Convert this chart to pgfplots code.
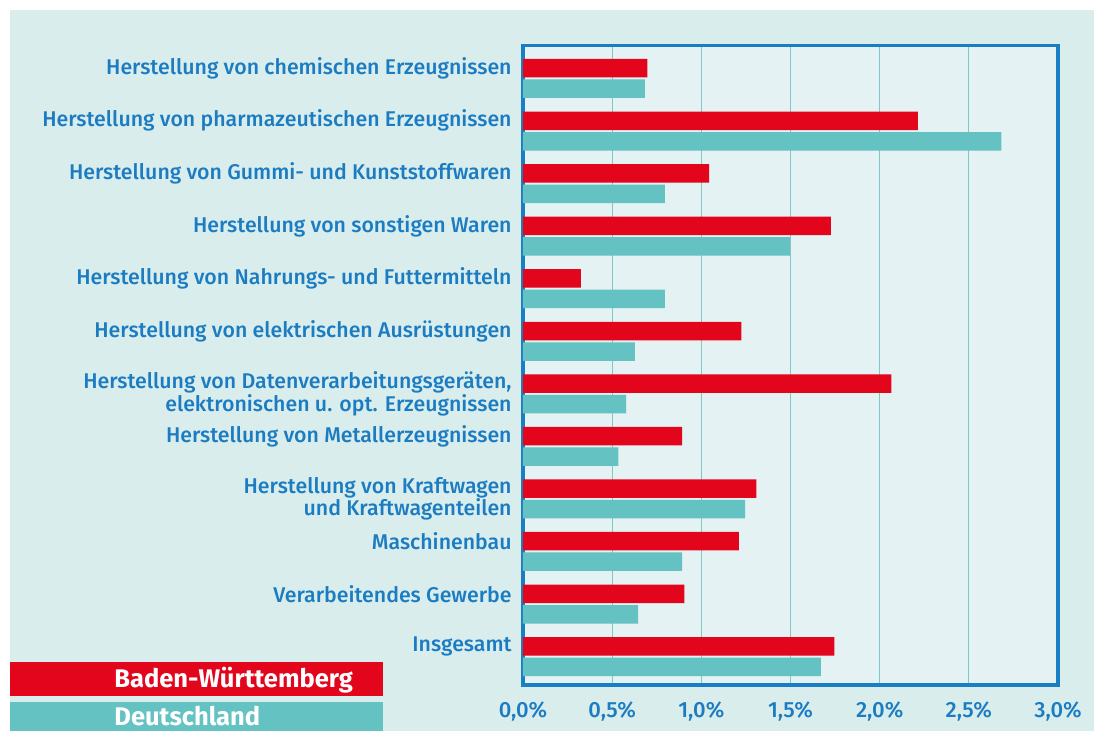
\documentclass[border=0pt]{standalone}
\usepackage{fontspec}
\setmainfont{Fira Sans}
\newfontfamily\medfont{Fira Sans Medium}
\usepackage{pgfplots}
\usepackage{pgfplotstable}
\pgfplotsset{compat=1.18}
\definecolor{bgout}{HTML}{D9EDED}
\definecolor{bgin}{HTML}{E4F2F3}
\definecolor{axblue}{HTML}{1A7EC4}
\definecolor{txtblue}{HTML}{1B7CC2}
\definecolor{gridc}{HTML}{80C8C8}
\definecolor{bwred}{HTML}{E2051C}
\definecolor{deteal}{HTML}{64C2C2}

% idx = 11 - position from top
\pgfplotstableread{
idx bw de
11 0.697 0.684
10 2.214 2.683
9 1.043 0.795
8 1.727 1.496
7 0.325 0.795
6 1.224 0.627
5 2.065 0.578
4 0.892 0.535
3 1.309 1.245
2 1.211 0.892
1 0.905 0.646
0 1.746 1.670
}\datatable

\begin{document}
\begin{tikzpicture}[x=1pt,y=1pt]
\fill[white] (0,0) rectangle (547,365.5);
\fill[bgout] (5,0) rectangle (547,360.5);
\begin{axis}[
  at={(261.5pt,23pt)}, anchor=south west,
  width=267.5pt, height=319.65pt, scale only axis,
  xmin=0, xmax=3, ymin=-0.54, ymax=11.624,
  axis background/.style={fill=bgin},
  axis line style={draw=axblue, line width=1.6pt},
  xmajorgrids, major grid style={draw=gridc, line width=0.6pt},
  major tick length=0pt,
  xtick={0,0.5,1,1.5,2,2.5,3},
  xticklabels={{0,0\%},{0,5\%},{1,0\%},{1,5\%},{2,0\%},{2,5\%},{3,0\%}},
  xticklabel style={font=\medfont\fontsize{11}{11}\selectfont, text=txtblue, anchor=base, yshift=-16.5pt},
  ytick={0.195,1.195,2.195,3,4.195,5,6.195,7.195,8.195,9.195,10.195,11.195},
  yticklabels={
    {Insgesamt},
    {Verarbeitendes Gewerbe},
    {Maschinenbau},
    {Herstellung von Kraftwagen\\und Kraftwagenteilen},
    {Herstellung von Metallerzeugnissen},
    {Herstellung von Datenverarbeitungsgeräten,\\elektronischen u. opt. Erzeugnissen},
    {Herstellung von elektrischen Ausrüstungen},
    {Herstellung von Nahrungs- und Futtermitteln},
    {Herstellung von sonstigen Waren},
    {Herstellung von Gummi- und Kunststoffwaren},
    {Herstellung von pharmazeutischen Erzeugnissen},
    {Herstellung von chemischen Erzeugnissen}},
  yticklabel style={font=\medfont\fontsize{10.65}{11.2}\selectfont, text=txtblue, anchor=east, inner sep=0pt, xshift=-5.5pt, align=right},
  clip=false,
]
\addplot[xbar, fill=bwred, draw=none, bar width=0.352, bar shift=0.195] table[x=bw, y=idx] {\datatable};
\addplot[xbar, fill=deteal, draw=none, bar width=0.352, bar shift=-0.195] table[x=de, y=idx] {\datatable};
\end{axis}
\fill[bwred] (5,17.5) rectangle (191.5,34.65);
\fill[deteal] (5,0) rectangle (191.5,14.35);
\node[anchor=base west, inner sep=0pt, text=white, font=\bfseries\fontsize{12.75}{13}\selectfont] at (57,21.5) {Baden-Württemberg};
\node[anchor=base west, inner sep=0pt, text=white, font=\bfseries\fontsize{12.75}{13}\selectfont] at (57,2.5) {Deutschland};
\pgfresetboundingbox
\path[use as bounding box] (0,0) rectangle (547,365.5);
\end{tikzpicture}
\end{document}
